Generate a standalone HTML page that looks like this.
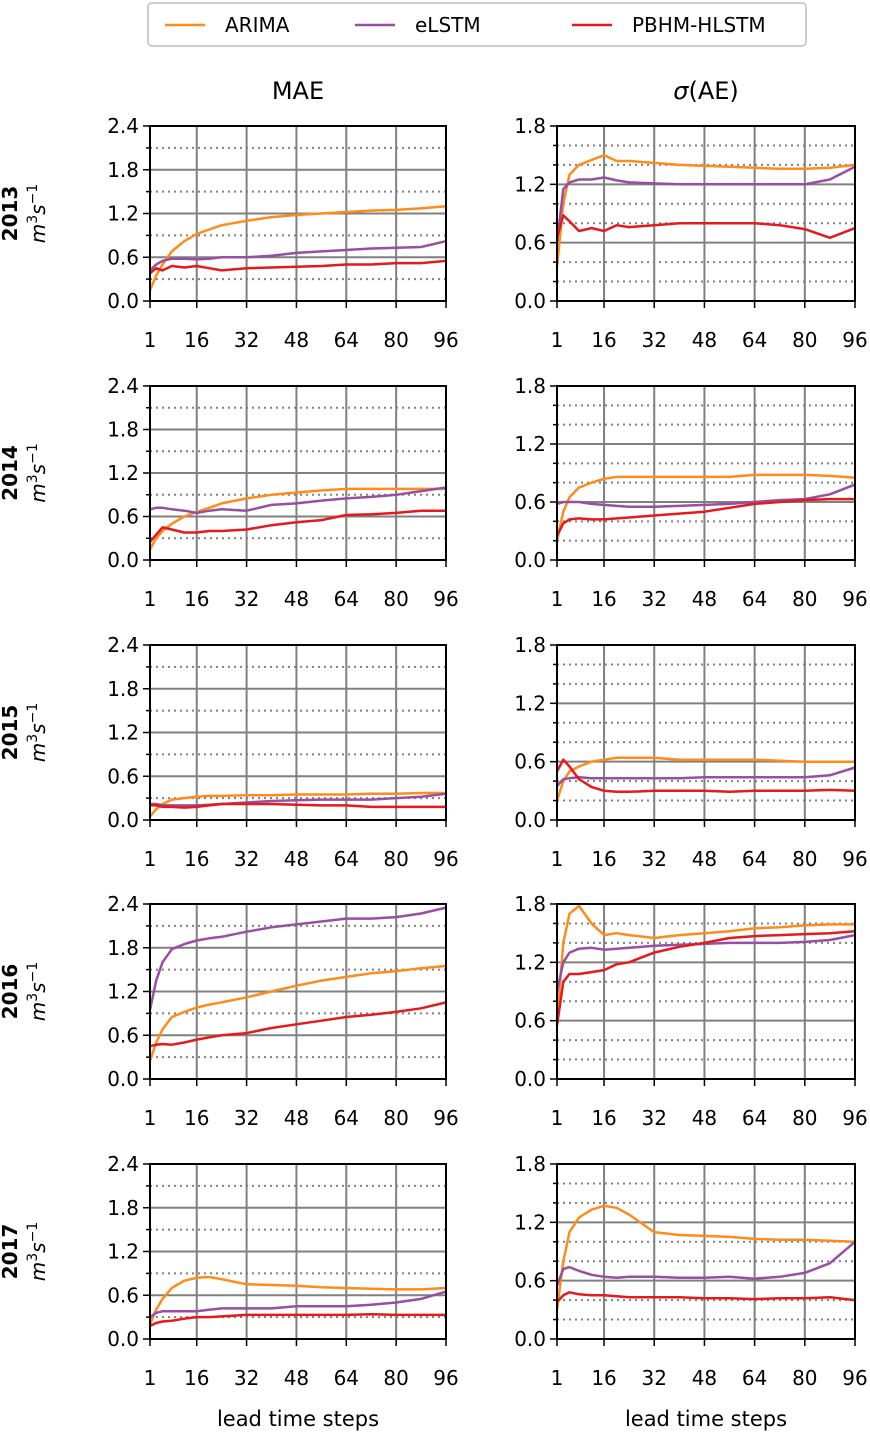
<!DOCTYPE html>
<html><head><meta charset="utf-8"><style>
body{margin:0;background:#fff;}
svg text{font-family:"DejaVu Sans","Liberation Sans",sans-serif;}
</style></head><body>
<svg id="c" width="870" height="1432" xmlns="http://www.w3.org/2000/svg"></svg>
<script>
const steps=[1,3,5,8,12,16,20,24,32,40,48,56,64,72,80,88,96];
const years=["2013","2014","2015","2016","2017"];
const seriesNames=["ARIMA","eLSTM","PBHM-HLSTM"];
const colors=["#ff8c1a","#984ea3","#e41a1c"];
const maeArima=[
[0.15,0.35,0.5,0.68,0.82,0.92,0.98,1.04,1.1,1.15,1.18,1.2,1.22,1.24,1.25,1.27,1.3],
[0.15,0.3,0.4,0.5,0.6,0.66,0.72,0.78,0.85,0.9,0.93,0.96,0.98,0.98,0.98,0.98,0.98],
[0.05,0.15,0.22,0.28,0.3,0.32,0.33,0.33,0.34,0.34,0.35,0.35,0.35,0.36,0.36,0.37,0.37],
[0.25,0.5,0.68,0.85,0.92,0.98,1.02,1.05,1.12,1.2,1.28,1.35,1.4,1.45,1.48,1.52,1.55],
[0.2,0.4,0.55,0.7,0.8,0.84,0.85,0.82,0.75,0.74,0.73,0.71,0.7,0.69,0.68,0.68,0.7]];
const maeElstm=[
[0.42,0.5,0.55,0.58,0.58,0.57,0.58,0.6,0.6,0.62,0.66,0.68,0.7,0.72,0.73,0.74,0.82],
[0.7,0.72,0.72,0.7,0.68,0.65,0.68,0.7,0.68,0.76,0.78,0.82,0.85,0.87,0.9,0.95,1.0],
[0.22,0.22,0.2,0.2,0.2,0.2,0.21,0.22,0.24,0.26,0.27,0.28,0.28,0.28,0.3,0.32,0.36],
[0.95,1.35,1.6,1.78,1.85,1.9,1.93,1.95,2.02,2.08,2.12,2.16,2.2,2.2,2.22,2.27,2.35],
[0.3,0.36,0.38,0.38,0.38,0.38,0.4,0.42,0.42,0.42,0.45,0.45,0.45,0.47,0.5,0.55,0.65]];
const maePbhm=[
[0.38,0.45,0.42,0.48,0.46,0.48,0.45,0.42,0.45,0.46,0.47,0.48,0.5,0.5,0.52,0.52,0.55],
[0.25,0.35,0.45,0.42,0.38,0.38,0.4,0.4,0.42,0.48,0.52,0.55,0.62,0.63,0.65,0.68,0.68],
[0.2,0.2,0.18,0.18,0.17,0.18,0.2,0.22,0.22,0.22,0.21,0.2,0.2,0.18,0.18,0.18,0.18],
[0.45,0.47,0.48,0.47,0.5,0.54,0.57,0.6,0.63,0.7,0.75,0.8,0.85,0.88,0.92,0.97,1.05],
[0.18,0.22,0.24,0.25,0.28,0.3,0.3,0.31,0.33,0.33,0.33,0.33,0.33,0.34,0.33,0.33,0.33]];
const sdArima=[
[0.35,1.0,1.3,1.4,1.45,1.5,1.44,1.44,1.42,1.4,1.39,1.38,1.37,1.36,1.36,1.37,1.4],
[0.2,0.5,0.65,0.75,0.8,0.84,0.86,0.86,0.86,0.86,0.86,0.86,0.88,0.88,0.88,0.87,0.85],
[0.2,0.4,0.5,0.55,0.6,0.62,0.64,0.64,0.64,0.62,0.62,0.62,0.62,0.61,0.6,0.6,0.6],
[0.6,1.4,1.7,1.78,1.6,1.48,1.5,1.48,1.45,1.48,1.5,1.52,1.55,1.56,1.58,1.59,1.59],
[0.3,0.8,1.1,1.25,1.33,1.37,1.35,1.28,1.1,1.07,1.06,1.05,1.03,1.02,1.02,1.01,1.0]];
const sdElstm=[
[0.6,1.15,1.22,1.25,1.25,1.27,1.24,1.22,1.21,1.2,1.2,1.2,1.2,1.2,1.2,1.25,1.38],
[0.58,0.6,0.6,0.6,0.58,0.57,0.56,0.55,0.55,0.56,0.57,0.58,0.6,0.62,0.63,0.68,0.78],
[0.35,0.42,0.43,0.44,0.43,0.43,0.43,0.43,0.43,0.43,0.44,0.44,0.44,0.44,0.44,0.46,0.54],
[0.9,1.2,1.3,1.34,1.35,1.33,1.34,1.35,1.37,1.38,1.39,1.4,1.4,1.4,1.41,1.43,1.48],
[0.55,0.72,0.74,0.7,0.66,0.64,0.63,0.64,0.64,0.63,0.63,0.64,0.62,0.64,0.68,0.78,1.0]];
const sdPbhm=[
[0.65,0.88,0.82,0.72,0.75,0.72,0.78,0.76,0.78,0.8,0.8,0.8,0.8,0.78,0.74,0.65,0.75],
[0.25,0.38,0.42,0.43,0.42,0.42,0.43,0.44,0.46,0.48,0.5,0.54,0.58,0.6,0.62,0.63,0.63],
[0.5,0.62,0.55,0.42,0.34,0.3,0.29,0.29,0.3,0.3,0.3,0.29,0.3,0.3,0.3,0.31,0.3],
[0.55,1.0,1.08,1.08,1.1,1.12,1.18,1.2,1.3,1.36,1.4,1.45,1.47,1.48,1.49,1.5,1.52],
[0.38,0.45,0.48,0.46,0.45,0.45,0.44,0.43,0.43,0.43,0.42,0.42,0.41,0.42,0.42,0.43,0.4]];
const xTicks=[1,16,32,48,64,80,96];
const maeTicks=[0,0.6,1.2,1.8,2.4];
const sdTicks=[0,0.6,1.2,1.8];

const svg=document.getElementById('c');
const NS="http://www.w3.org/2000/svg";
function mk(tag,attrs,parent){const e=document.createElementNS(NS,tag);for(const k in attrs)e.setAttribute(k,attrs[k]);(parent||svg).appendChild(e);return e;}

const colX=[[150,446],[557,855]];
const rowY=[[126,301],[386,560],[645,820],[904,1079],[1164,1339]];

function panel(r,c){
  const [x0,x1]=colX[c],[y0,y1]=rowY[r];
  const ymax=c===0?2.4:1.8, minorStep=c===0?0.3:0.2;
  const ticks=c===0?maeTicks:sdTicks;
  const xs=v=>x0+(v-1)/95*(x1-x0);
  const ys=v=>y1-v/ymax*(y1-y0);
  const g=mk('g',{});
  
  
  for(let v=minorStep;v<ymax-1e-6;v+=minorStep){
    if(Math.abs(v/0.6-Math.round(v/0.6))<1e-6) continue;
    mk('line',{x1:x0,x2:x1,y1:ys(v),y2:ys(v),stroke:'#808080','stroke-width':2,'stroke-dasharray':'2,4'},g);
    mk('line',{x1:x0-4,x2:x0,y1:ys(v),y2:ys(v),stroke:'#000','stroke-width':1.5},g);
  }
  ticks.forEach(v=>{
    mk('line',{x1:x0,x2:x1,y1:ys(v),y2:ys(v),stroke:'#808080','stroke-width':2},g);
    mk('line',{x1:x0-7,x2:x0,y1:ys(v),y2:ys(v),stroke:'#000','stroke-width':1.5},g);
    const t=mk('text',{x:x0-11,y:ys(v)+7,'text-anchor':'end','font-size':20},g);t.textContent=v.toFixed(1);
  });
  xTicks.forEach(v=>{
    mk('line',{x1:xs(v),x2:xs(v),y1:y0,y2:y1,stroke:'#808080','stroke-width':2},g);
    mk('line',{x1:xs(v),x2:xs(v),y1:y1,y2:y1+7,stroke:'#000','stroke-width':1.5},g);
    const t=mk('text',{x:xs(v),y:y1+46,'text-anchor':'middle','font-size':20},g);t.textContent=v;
  });
  const sets=c===0?[maeArima,maeElstm,maePbhm]:[sdArima,sdElstm,sdPbhm];
  sets.forEach((s,i)=>{
    const d=steps.map((st,j)=>(j?'L':'M')+xs(st).toFixed(1)+','+ys(s[r][j]).toFixed(1)).join('');
    const p=mk('path',{d:d,fill:'none',stroke:colors[i],'stroke-width':2.5,'stroke-linejoin':'round'},g);
    
    
  });
  mk('rect',{x:x0,y:y0,width:x1-x0,height:y1-y0,fill:'none',stroke:'#000','stroke-width':2},g);
}
for(let r=0;r<5;r++){for(let c=0;c<2;c++)panel(r,c);
  const cy=(rowY[r][0]+rowY[r][1])/2;
  const t=mk('text',{transform:`translate(${17},${cy}) rotate(-90)`,'text-anchor':'middle','font-size':20,'font-weight':'bold'});t.textContent=years[r];
  
  const u=mk('text',{transform:`translate(${45},${cy}) rotate(-90)`,'text-anchor':'middle','font-size':20,'font-style':'italic'});
  u.innerHTML='m<tspan dy="-8" font-size="14" font-style="normal">3</tspan><tspan dy="8">s</tspan><tspan dy="-8" font-size="14" font-style="normal">−1</tspan>';
  
}
const t1=mk('text',{x:298,y:99,'text-anchor':'middle','font-size':24});t1.textContent='MAE';

const t2=mk('text',{x:706,y:99,'text-anchor':'middle','font-size':24});t2.innerHTML='<tspan font-style="italic">σ</tspan>(AE)';

[298,706].forEach(x=>{const t=mk('text',{x:x,y:1426,'text-anchor':'middle','font-size':21});t.textContent='lead time steps';
  });
const lg=mk('g',{});

mk('rect',{x:148,y:3,width:658,height:43,rx:4,fill:'#fff',stroke:'#ccc','stroke-width':2},lg);
[[165,'ARIMA'],[355,'eLSTM'],[572,'PBHM-HLSTM']].forEach(([x,s],i)=>{
  const e=mk('g',{},lg);
  mk('line',{x1:x,x2:x+40,y1:25,y2:25,stroke:colors[i],'stroke-width':2.5},e);
  const t=mk('text',{x:x+60,y:32,'font-size':20},e);t.textContent=s;
});
</script>
</body></html>
